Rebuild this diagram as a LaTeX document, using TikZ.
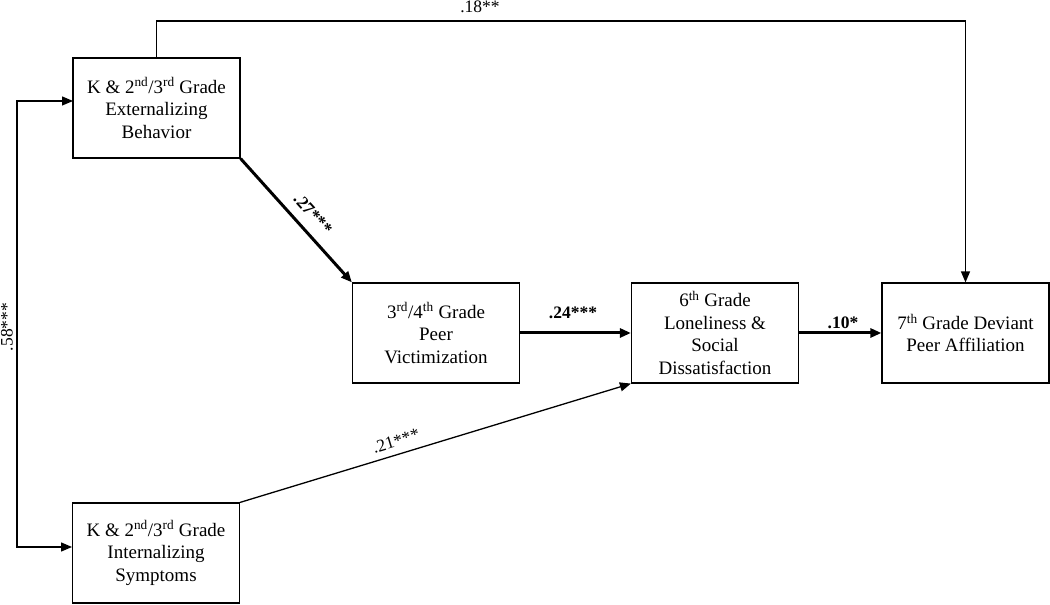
\documentclass[tikz,border=0pt]{standalone}
\usepackage{fontspec}
\setmainfont{Liberation Serif}
\usetikzlibrary{arrows.meta}
\begin{document}
\begin{tikzpicture}[x=1pt,y=1pt,
  box/.style={draw, line width=1.2pt, minimum width=167pt, minimum height=100pt, align=center, inner sep=2pt,
    font=\fontsize{19}{22.5}\selectfont},
  thin/.style={line width=1.3pt},
  thick/.style={line width=3pt},
  tip/.style={-{Triangle[length=11pt,width=9pt]}},
  tips/.style={{Triangle[length=11pt,width=9pt]}-{Triangle[length=11pt,width=9pt]}},
  lab/.style={font=\fontsize{17.5}{19}\selectfont, inner sep=1pt},
  blab/.style={font=\fontsize{17.5}{19}\selectfont\bfseries, inner sep=1pt}]
\useasboundingbox (0,0) rectangle (1050,605);
\node[box] (A) at (156.5,497) {K \& 2\textsuperscript{nd}/3\textsuperscript{rd} Grade\\Externalizing\\Behavior};
\node[box] (B) at (436,272) {3\textsuperscript{rd}/4\textsuperscript{th} Grade\\Peer\\Victimization};
\node[box] (C) at (715,272) {6\textsuperscript{th} Grade\\Loneliness \&\\Social\\Dissatisfaction};
\node[box] (D) at (156,52) {K \& 2\textsuperscript{nd}/3\textsuperscript{rd} Grade\\Internalizing\\Symptoms};
\node[box] (F) at (965.5,272) {7\textsuperscript{th} Grade Deviant\\Peer Affiliation};
% top path
\coordinate (t1) at (156.5,584);
\coordinate (t2) at (965.5,584);
\draw[thin,tip] (A.north) -- (t1) -- (t2) -- (F.north);
\node[lab] (l18) at (480,598) {.18**};
% left correlation
\coordinate (a1) at (73,504);
\coordinate (c1) at (17,504);
\coordinate (c2) at (17,58);
\coordinate (d1) at (72,58);
\draw[thin,tips] (a1) -- (c1) -- (c2) -- (d1);
\node[lab, rotate=90] (l58) at (7,278) {.58***};
% A -> B
\draw[thick,tip] (A.south east) -- (B.north west);
\node[blab, rotate=-48] (l27) at (313,391) {.27***};
% B -> C
\draw[thick,tip] (B.east) -- (C.west);
\node[blab] (l24) at (573,292) {.24***};
% C -> F
\draw[thick,tip] (C.east) -- (F.west);
\node[blab] (l10) at (843,282) {.10*};
% D -> C
\draw[thin,tip] (D.north east) -- (C.south west);
\node[lab, rotate=16.8] (l21) at (396,164) {.21***};
\end{tikzpicture}
\end{document}
